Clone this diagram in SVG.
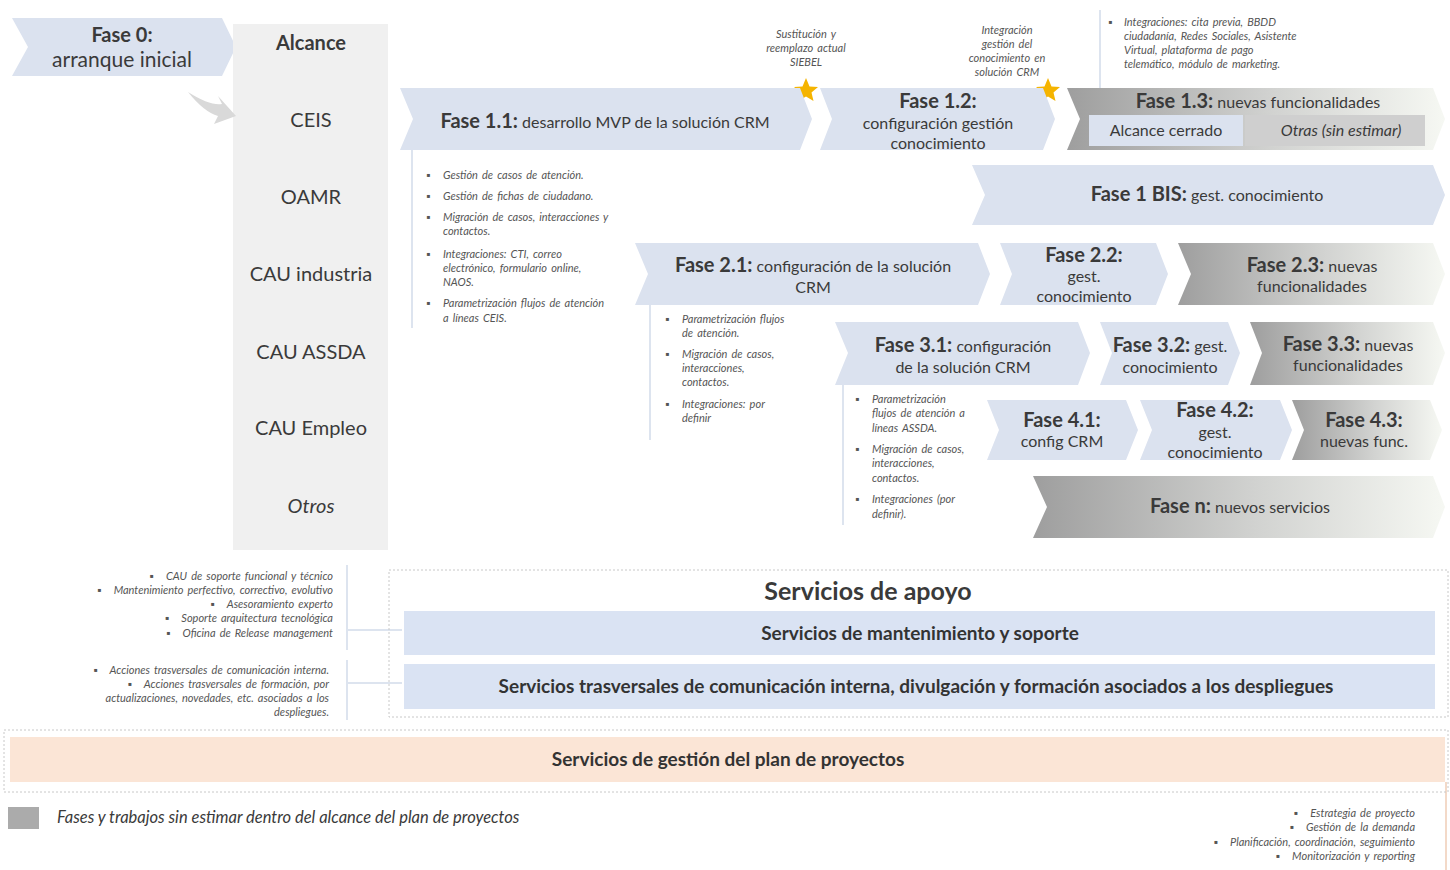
<svg xmlns="http://www.w3.org/2000/svg" width="1450" height="870" viewBox="0 0 1450 870">
<defs>
<linearGradient id="gr" x1="0" y1="0" x2="1" y2="0">
<stop offset="0" stop-color="#9e9e9e"/>
<stop offset="0.55" stop-color="#d2d3d1"/>
<stop offset="1" stop-color="#f6f8f3"/>
</linearGradient>
<style>
text{font-family:Lato,"Open Sans","Liberation Sans",sans-serif;fill:#3a3a3a}
.blue{fill:#dbe2ef}
.gray{fill:url(#gr)}
.b{font-weight:bold}
.t{font-size:16px}
.h{font-size:20px;font-weight:bold}
.c{text-anchor:middle}
.r{text-anchor:end}
.sm{font-size:11px;font-style:italic;fill:#555;word-spacing:1.5px}
.lab{font-size:20px;text-anchor:middle}
.ln{stroke:#dde4ef;stroke-width:2;fill:none}
.svc{font-size:19px;font-weight:bold;text-anchor:middle;fill:#333}
</style>
</defs>
<rect width="1450" height="870" fill="#ffffff"/>

<g id="fase0">
<polygon class="blue" points="12,18 222,18 236,47 222,76 12,76 28,47"/>
<text x="122" y="42" class="c h">Fase 0:</text>
<text x="122" y="67" class="c" font-size="21">arranque inicial</text>
</g>

<g id="alcance">
<rect x="233" y="24" width="155" height="526" fill="#f0f0f0"/>
<text x="311" y="50" class="lab b">Alcance</text>
<text x="311" y="127" class="lab">CEIS</text>
<text x="311" y="204" class="lab">OAMR</text>
<text x="311" y="281" class="lab">CAU industria</text>
<text x="311" y="359" class="lab">CAU ASSDA</text>
<text x="311" y="435" class="lab">CAU Empleo</text>
<text x="311" y="513" class="lab" font-style="italic">Otros</text>
</g>

<g id="connectors">
<path d="M188,92 Q210,106 222,104 L218,96 L236,116 L214,124 L218,116 Q204,112 188,92 Z" fill="#d9d9d9"/>
<line class="ln" x1="1100" y1="10" x2="1100" y2="118"/>
<line class="ln" x1="412" y1="150" x2="412" y2="328"/>
<line class="ln" x1="650" y1="305" x2="650" y2="440"/>
<line class="ln" x1="843" y1="385" x2="843" y2="525"/>
<line class="ln" x1="347" y1="565" x2="347" y2="650"/>
<line class="ln" x1="347" y1="630" x2="402" y2="630"/>
<line class="ln" x1="347" y1="660" x2="347" y2="720"/>
<line class="ln" x1="347" y1="683" x2="402" y2="683"/>
<line x1="1446" y1="782" x2="1446" y2="870" stroke="#f3d9c8" stroke-width="2"/>
</g>

<g id="notes-top">
<text class="sm c"><tspan x="806" y="38">Sustitución y</tspan><tspan x="806" y="52">reemplazo actual</tspan><tspan x="806" y="66">SIEBEL</tspan></text>
<text class="sm c"><tspan x="1007" y="34">Integración</tspan><tspan x="1007" y="48">gestión del</tspan><tspan x="1007" y="62">conocimiento en</tspan><tspan x="1007" y="76">solución CRM</tspan></text>
<text class="sm"><tspan x="1108" y="26">▪</tspan></text>
<text class="sm"><tspan x="1124" y="26">Integraciones: cita previa, BBDD</tspan><tspan x="1124" y="40">ciudadanía, Redes Sociales, Asistente</tspan><tspan x="1124" y="54">Virtual, plataforma de pago</tspan><tspan x="1124" y="68">telemático, módulo de marketing.</tspan></text>
</g>

<g id="stars" fill="#f5b400">
<polygon points="806,78 809.5,86.5 818,87 811.5,92.5 813.5,101 806,96.5 798.5,101 800.5,92.5 794,87 802.5,86.5"/>
<polygon points="1048,78 1051.5,86.5 1060,87 1053.5,92.5 1055.5,101 1048,96.5 1040.5,101 1042.5,92.5 1036,87 1044.5,86.5"/>
</g>

<g id="fase11">
<polygon class="blue" points="400,88 800,88 812,119 800,150 400,150 413,119"/>
<text x="605" y="128" class="c"><tspan class="h">Fase 1.1:</tspan><tspan class="t"> desarrollo MVP de la solución CRM</tspan></text>
</g>
<g id="fase12">
<polygon class="blue" points="820,88 1043,88 1055,119 1043,150 820,150 832,119"/>
<text x="938" y="108" class="c h">Fase 1.2:</text>
<text x="938" y="129" class="c t">configuración gestión</text>
<text x="938" y="149" class="c t">conocimiento</text>
</g>
<g id="fase13">
<polygon class="gray" points="1067,88 1433,88 1445,119 1433,150 1067,150 1080,119"/>
<text x="1258" y="108" class="c"><tspan class="h">Fase 1.3:</tspan><tspan class="t"> nuevas funcionalidades</tspan></text>
<rect x="1089" y="115" width="154" height="31" fill="#dbe2ef"/>
<rect x="1245" y="115" width="180" height="31" fill="#cfcfcf"/>
<text x="1166" y="136" class="c t">Alcance cerrado</text>
<text x="1341" y="136" class="c t" font-style="italic">Otras (sin estimar)</text>
</g>

<g id="notes11">
<text class="sm" font-size="10"><tspan x="426" y="179">▪</tspan><tspan x="426" y="200">▪</tspan><tspan x="426" y="221">▪</tspan><tspan x="426" y="258">▪</tspan><tspan x="426" y="307">▪</tspan></text>
<text class="sm"><tspan x="443" y="179">Gestión de casos de atención.</tspan><tspan x="443" y="200">Gestión de fichas de ciudadano.</tspan><tspan x="443" y="221">Migración de casos, interacciones y</tspan><tspan x="443" y="235">contactos.</tspan><tspan x="443" y="258">Integraciones: CTI, correo</tspan><tspan x="443" y="272">electrónico, formulario online,</tspan><tspan x="443" y="286">NAOS.</tspan><tspan x="443" y="307">Parametrización flujos de atención</tspan><tspan x="443" y="322">a líneas CEIS.</tspan></text>
</g>

<g id="fase1bis">
<polygon class="blue" points="972,165 1433,165 1445,195 1433,225 972,225 985,195"/>
<text x="1207" y="201" class="c"><tspan class="h">Fase 1 BIS:</tspan><tspan class="t"> gest. conocimiento</tspan></text>
</g>

<g id="fase21">
<polygon class="blue" points="635,243 978,243 990,274 978,305 635,305 648,274"/>
<text x="813" y="272" class="c"><tspan class="h">Fase 2.1:</tspan><tspan class="t"> configuración de la solución</tspan></text>
<text x="813" y="293" class="c t">CRM</text>
</g>
<g id="fase22">
<polygon class="blue" points="1000,243 1156,243 1168,274 1156,305 1000,305 1012,274"/>
<text x="1084" y="262" class="c h">Fase 2.2:</text>
<text x="1084" y="282" class="c t">gest.</text>
<text x="1084" y="302" class="c t">conocimiento</text>
</g>
<g id="fase23">
<polygon class="gray" points="1178,243 1433,243 1445,274 1433,305 1178,305 1191,274"/>
<text x="1312" y="272" class="c"><tspan class="h">Fase 2.3:</tspan><tspan class="t"> nuevas</tspan></text>
<text x="1312" y="292" class="c t">funcionalidades</text>
</g>

<g id="notes21">
<text class="sm"><tspan x="665" y="323">▪</tspan><tspan x="665" y="358">▪</tspan><tspan x="665" y="408">▪</tspan></text>
<text class="sm"><tspan x="682" y="323">Parametrización flujos</tspan><tspan x="682" y="337">de atención.</tspan><tspan x="682" y="358">Migración de casos,</tspan><tspan x="682" y="372">interacciones,</tspan><tspan x="682" y="386">contactos.</tspan><tspan x="682" y="408">Integraciones: por</tspan><tspan x="682" y="422">definir</tspan></text>
</g>

<g id="fase31">
<polygon class="blue" points="835,322 1078,322 1090,353 1078,385 835,385 848,353"/>
<text x="963" y="352" class="c"><tspan class="h">Fase 3.1:</tspan><tspan class="t"> configuración</tspan></text>
<text x="963" y="373" class="c t">de la solución CRM</text>
</g>
<g id="fase32">
<polygon class="blue" points="1100,322 1228,322 1240,353 1228,385 1100,385 1112,353"/>
<text x="1170" y="352" class="c"><tspan class="h">Fase 3.2:</tspan><tspan class="t"> gest.</tspan></text>
<text x="1170" y="373" class="c t">conocimiento</text>
</g>
<g id="fase33">
<polygon class="gray" points="1250,322 1433,322 1445,353 1433,385 1250,385 1262,353"/>
<text x="1348" y="351" class="c"><tspan class="h">Fase 3.3:</tspan><tspan class="t"> nuevas</tspan></text>
<text x="1348" y="371" class="c t">funcionalidades</text>
</g>

<g id="notes31">
<text class="sm"><tspan x="855" y="403">▪</tspan><tspan x="855" y="453">▪</tspan><tspan x="855" y="503">▪</tspan></text>
<text class="sm"><tspan x="872" y="403">Parametrización</tspan><tspan x="872" y="417">flujos de atención a</tspan><tspan x="872" y="432">líneas ASSDA.</tspan><tspan x="872" y="453">Migración de casos,</tspan><tspan x="872" y="467">interacciones,</tspan><tspan x="872" y="482">contactos.</tspan><tspan x="872" y="503">Integraciones (por</tspan><tspan x="872" y="518">definir).</tspan></text>
</g>

<g id="fase41">
<polygon class="blue" points="987,400 1126,400 1138,430 1126,460 987,460 999,430"/>
<text x="1062" y="427" class="c h">Fase 4.1:</text>
<text x="1062" y="447" class="c t">config CRM</text>
</g>
<g id="fase42">
<polygon class="blue" points="1140,400 1280,400 1292,430 1280,460 1140,460 1152,430"/>
<text x="1215" y="417" class="c h">Fase 4.2:</text>
<text x="1215" y="438" class="c t">gest.</text>
<text x="1215" y="458" class="c t">conocimiento</text>
</g>
<g id="fase43">
<polygon class="gray" points="1292,400 1430,400 1442,430 1430,460 1292,460 1304,430"/>
<text x="1364" y="427" class="c h">Fase 4.3:</text>
<text x="1364" y="447" class="c t">nuevas func.</text>
</g>
<g id="fasen">
<polygon class="gray" points="1033,476 1433,476 1445,507 1433,538 1033,538 1047,507"/>
<text x="1240" y="513" class="c"><tspan class="h">Fase n:</tspan><tspan class="t"> nuevos servicios</tspan></text>
</g>

<g id="notes-apoyo">
<text class="sm r"><tspan x="333" y="580">▪&#160;&#160;&#160;CAU de soporte funcional y técnico</tspan><tspan x="333" y="594">▪&#160;&#160;&#160;Mantenimiento perfectivo, correctivo, evolutivo</tspan><tspan x="333" y="608">▪&#160;&#160;&#160;Asesoramiento experto</tspan><tspan x="333" y="622">▪&#160;&#160;&#160;Soporte arquitectura tecnológica</tspan><tspan x="333" y="637">▪&#160;&#160;&#160;Oficina de Release management</tspan></text>
<text class="sm r"><tspan x="329" y="674">▪&#160;&#160;&#160;Acciones trasversales de comunicación interna.</tspan><tspan x="329" y="688">▪&#160;&#160;&#160;Acciones trasversales de formación, por</tspan><tspan x="329" y="702">actualizaciones, novedades, etc. asociados a los</tspan><tspan x="329" y="716">despliegues.</tspan></text>
</g>

<g id="apoyo">
<rect x="389" y="570" width="1059" height="147" fill="none" stroke="#c8c8c8" stroke-dasharray="2,2"/>
<text x="868" y="600" class="c" font-size="25" font-weight="bold">Servicios de apoyo</text>
<rect x="404" y="611" width="1031" height="44" fill="#dae3f3"/>
<text x="920" y="640" class="svc">Servicios de mantenimiento y soporte</text>
<rect x="404" y="664" width="1031" height="45" fill="#dae3f3"/>
<text x="916" y="693" class="svc">Servicios trasversales de comunicación interna, divulgación y formación asociados a los despliegues</text>
</g>

<g id="gestion">
<rect x="4" y="730" width="1444" height="62" fill="none" stroke="#c8c8c8" stroke-dasharray="2,2"/>
<rect x="10" y="737" width="1435" height="45" fill="#fbe5d6"/>
<text x="728" y="766" class="svc">Servicios de gestión del plan de proyectos</text>
</g>

<g id="legend">
<rect x="8" y="807" width="31" height="22" fill="#ababab"/>
<text x="57" y="823" font-size="16.5" font-style="italic" fill="#444">Fases y trabajos sin estimar dentro del alcance del plan de proyectos</text>
</g>

<g id="notes-gestion">
<text class="sm r"><tspan x="1415" y="817">▪&#160;&#160;&#160;Estrategia de proyecto</tspan><tspan x="1415" y="831">▪&#160;&#160;&#160;Gestión de la demanda</tspan><tspan x="1415" y="846">▪&#160;&#160;&#160;Planificación, coordinación, seguimiento</tspan><tspan x="1415" y="860">▪&#160;&#160;&#160;Monitorización y reporting</tspan></text>
</g>
</svg>
